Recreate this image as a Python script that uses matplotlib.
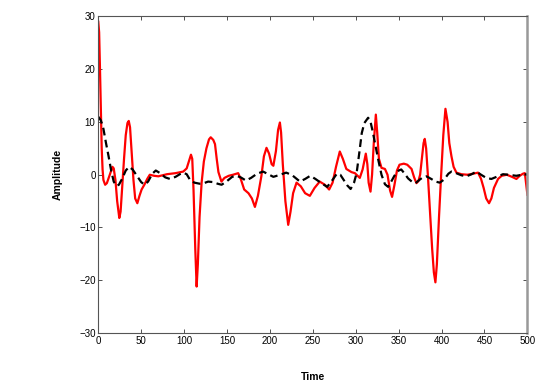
import numpy as np
import matplotlib
matplotlib.use('Agg')
import matplotlib.pyplot as plt

plt.rcParams['font.family'] = ['Liberation Sans', 'DejaVu Sans']

# red signal
t_red = [0, 1, 2, 3, 4, 5, 6, 8, 10, 13, 16.5, 18, 20, 22, 24.5, 26, 28, 30, 32, 34,
         35.5, 37, 39, 41, 43, 45.5, 48, 50.5, 54, 57, 60, 65, 70, 80, 90, 99, 103, 106,
         108, 109.5, 111, 113, 114.6, 116, 118, 120.4, 123, 126, 129, 131, 134, 136, 138,
         140, 143.5, 147, 152, 157, 163, 166, 170, 175, 179, 182.5, 186, 190, 193, 196,
         199, 202, 204, 207, 209.5, 211.6, 213, 215, 218, 221.3, 224, 227, 231, 236, 241,
         246.5, 252, 258, 264, 269, 273, 277, 281.4, 285, 289, 295, 299, 304.7, 308,
         311.7, 313.5, 315, 317.2, 319, 321, 323.4, 325, 327, 330, 334, 337, 340, 342.3,
         345, 348, 351, 356, 360, 365, 368, 370.7, 373, 375, 377, 379, 380.4, 382, 384,
         386.5, 389, 391, 392.8, 394.5, 397, 399.5, 402, 404.5, 407, 409, 411.5, 414,
         417.3, 423, 430, 437, 442.5, 446, 449, 452, 455.3, 458, 461, 465.8, 470, 476,
         482, 487.2, 491, 494.9, 497, 498, 500]
v_red = [29, 27, 20, 12, 5, 1, -1.0, -1.9, -1.6, -0.2, 1.5, 1.2, -1, -5, -8.2, -7, -2, 3,
         7.5, 9.8, 10.2, 9, 4, -1, -4.5, -5.4, -4, -2.8, -1.8, -0.8, 0, -0.2, -0.3, 0.1,
         0.3, 0.6, 1.2, 2.8, 3.8, 3, -3, -14, -21.2, -17, -8, -1.5, 2.5, 5, 6.7, 7.1, 6.6,
         5.8, 3, 0.5, -1.3, -0.6, -0.2, 0, 0.3, -0.8, -2.8, -3.5, -4.5, -6.1, -4, -0.3,
         3.5, 5.1, 4, 2, 1.7, 4.5, 8.5, 9.9, 8, 2, -5, -9.5, -7, -3.5, -1.5, -2.2, -3.5,
         -4.0, -2.5, -1.3, -1.9, -2.8, -1.5, 1.5, 4.4, 3, 1.1, 0.5, 0.3, -0.6, 1, 4.0, 2,
         -1.5, -3.2, 0, 6, 11.4, 8, 3, 1.3, 1.1, 0, -3, -4.2, -2, 0.8, 1.9, 2.1, 1.9, 1.1,
         -0.5, -1.6, -1.2, 0, 3, 6, 6.8, 5, 0, -7, -14, -18.5, -20.4, -17, -8, 0, 7.5,
         12.5, 10, 6, 3.5, 1.5, 0.4, 0.1, 0, 0.2, 0.4, -0.8, -2.5, -4.5, -5.4, -4.5, -2.5,
         -0.8, -0.2, 0, -0.4, -0.8, -0.2, 0.2, 0.3, -1, -3.8]

# black dashed signal
t_blk = [0, 3, 6, 9, 12, 15, 18, 21, 24, 28, 32, 36, 40, 45, 50, 54, 58, 63, 67, 72, 78,
         83.5, 90, 95, 99, 103, 107, 112, 118, 123, 128, 134, 139, 143.7, 150, 156, 161,
         166, 172, 178, 185, 192, 198, 204, 210, 219, 226, 235, 241, 247, 253, 260, 266.7,
         272, 278, 282, 286, 290, 294, 298, 301, 304, 307, 310, 314.4, 317, 320, 323, 326,
         330, 334, 337.7, 341, 345, 350, 353, 357, 361, 366, 369.6, 374, 378, 382.4, 388,
         393, 397.9, 403, 408, 411.5, 417, 423, 429, 435, 440.6, 446, 452, 458, 464,
         471.6, 478, 487, 494, 500]
v_blk = [11, 10.3, 8.7, 6, 3.5, 0.8, -1.3, -2.1, -1.9, -0.7, 0.8, 1.5, 1.0, -0.2, -1.4,
         -1.9, -1.3, 0.2, 0.8, 0.3, -0.5, -0.8, -0.4, 0.1, 0.4, 0.1, -1.0, -1.5, -1.7,
         -1.6, -1.3, -1.4, -1.7, -1.9, -1.2, -0.4, -0.2, -0.5, -1.1, -0.6, 0.2, 0.6, 0.1,
         -0.4, -0.1, 0.4, -0.1, -1.3, -0.8, -0.2, -0.8, -1.6, -2.3, -1.2, 0.2, 0.0, -1.0,
         -2.0, -2.7, -1.5, 0.3, 4.0, 7.9, 9.8, 10.8, 10.2, 8.0, 5.5, 3, 0, -1.8, -2.3, -1.4,
         -0.2, 0.8, 1.0, 0.2, -0.7, -1.4, -1.6, -1.0, -0.5, -0.3, -0.8, -1.3, -1.5, -0.9,
         0.2, 0.6, 0.3, -0.1, -0.3, 0.1, 0.6, 0.0, -0.6, -0.8, -0.4, 0.1, 0.0, -0.2, 0.0,
         0.1]

xticks = np.arange(0, 501, 50)
yticks = np.arange(-30, 31, 10)

fig = plt.figure(figsize=(5.54, 3.88), dpi=100)
ax = fig.add_axes([0.1774, 0.1418, 0.7746, 0.8157])

ax.plot(t_red, v_red, color='red', lw=1.6)
ax.plot(t_blk, v_blk, color='black', lw=1.6, ls=(0, (3.5, 2)))

ax.set_xlim(0, 500)
ax.set_ylim(-30, 30)
ax.set_xticks(xticks)
ax.set_yticks(yticks)
ax.tick_params(direction='in', top=True, right=True, labelsize=7, length=3,
               width=0.6, colors='#333333', labelcolor='black', pad=2)
for s in ax.spines.values():
    s.set_color('#555555')
    s.set_linewidth(0.8)
ax.spines['right'].set_color('#999999')
ax.spines['right'].set_linewidth(1.8)

ax.set_xlabel('Time', fontsize=7.5, fontweight='bold', labelpad=19)
ax.set_ylabel('Amplitude', fontsize=7.5, fontweight='bold', labelpad=12)

fig.savefig('out.png', dpi=100)
